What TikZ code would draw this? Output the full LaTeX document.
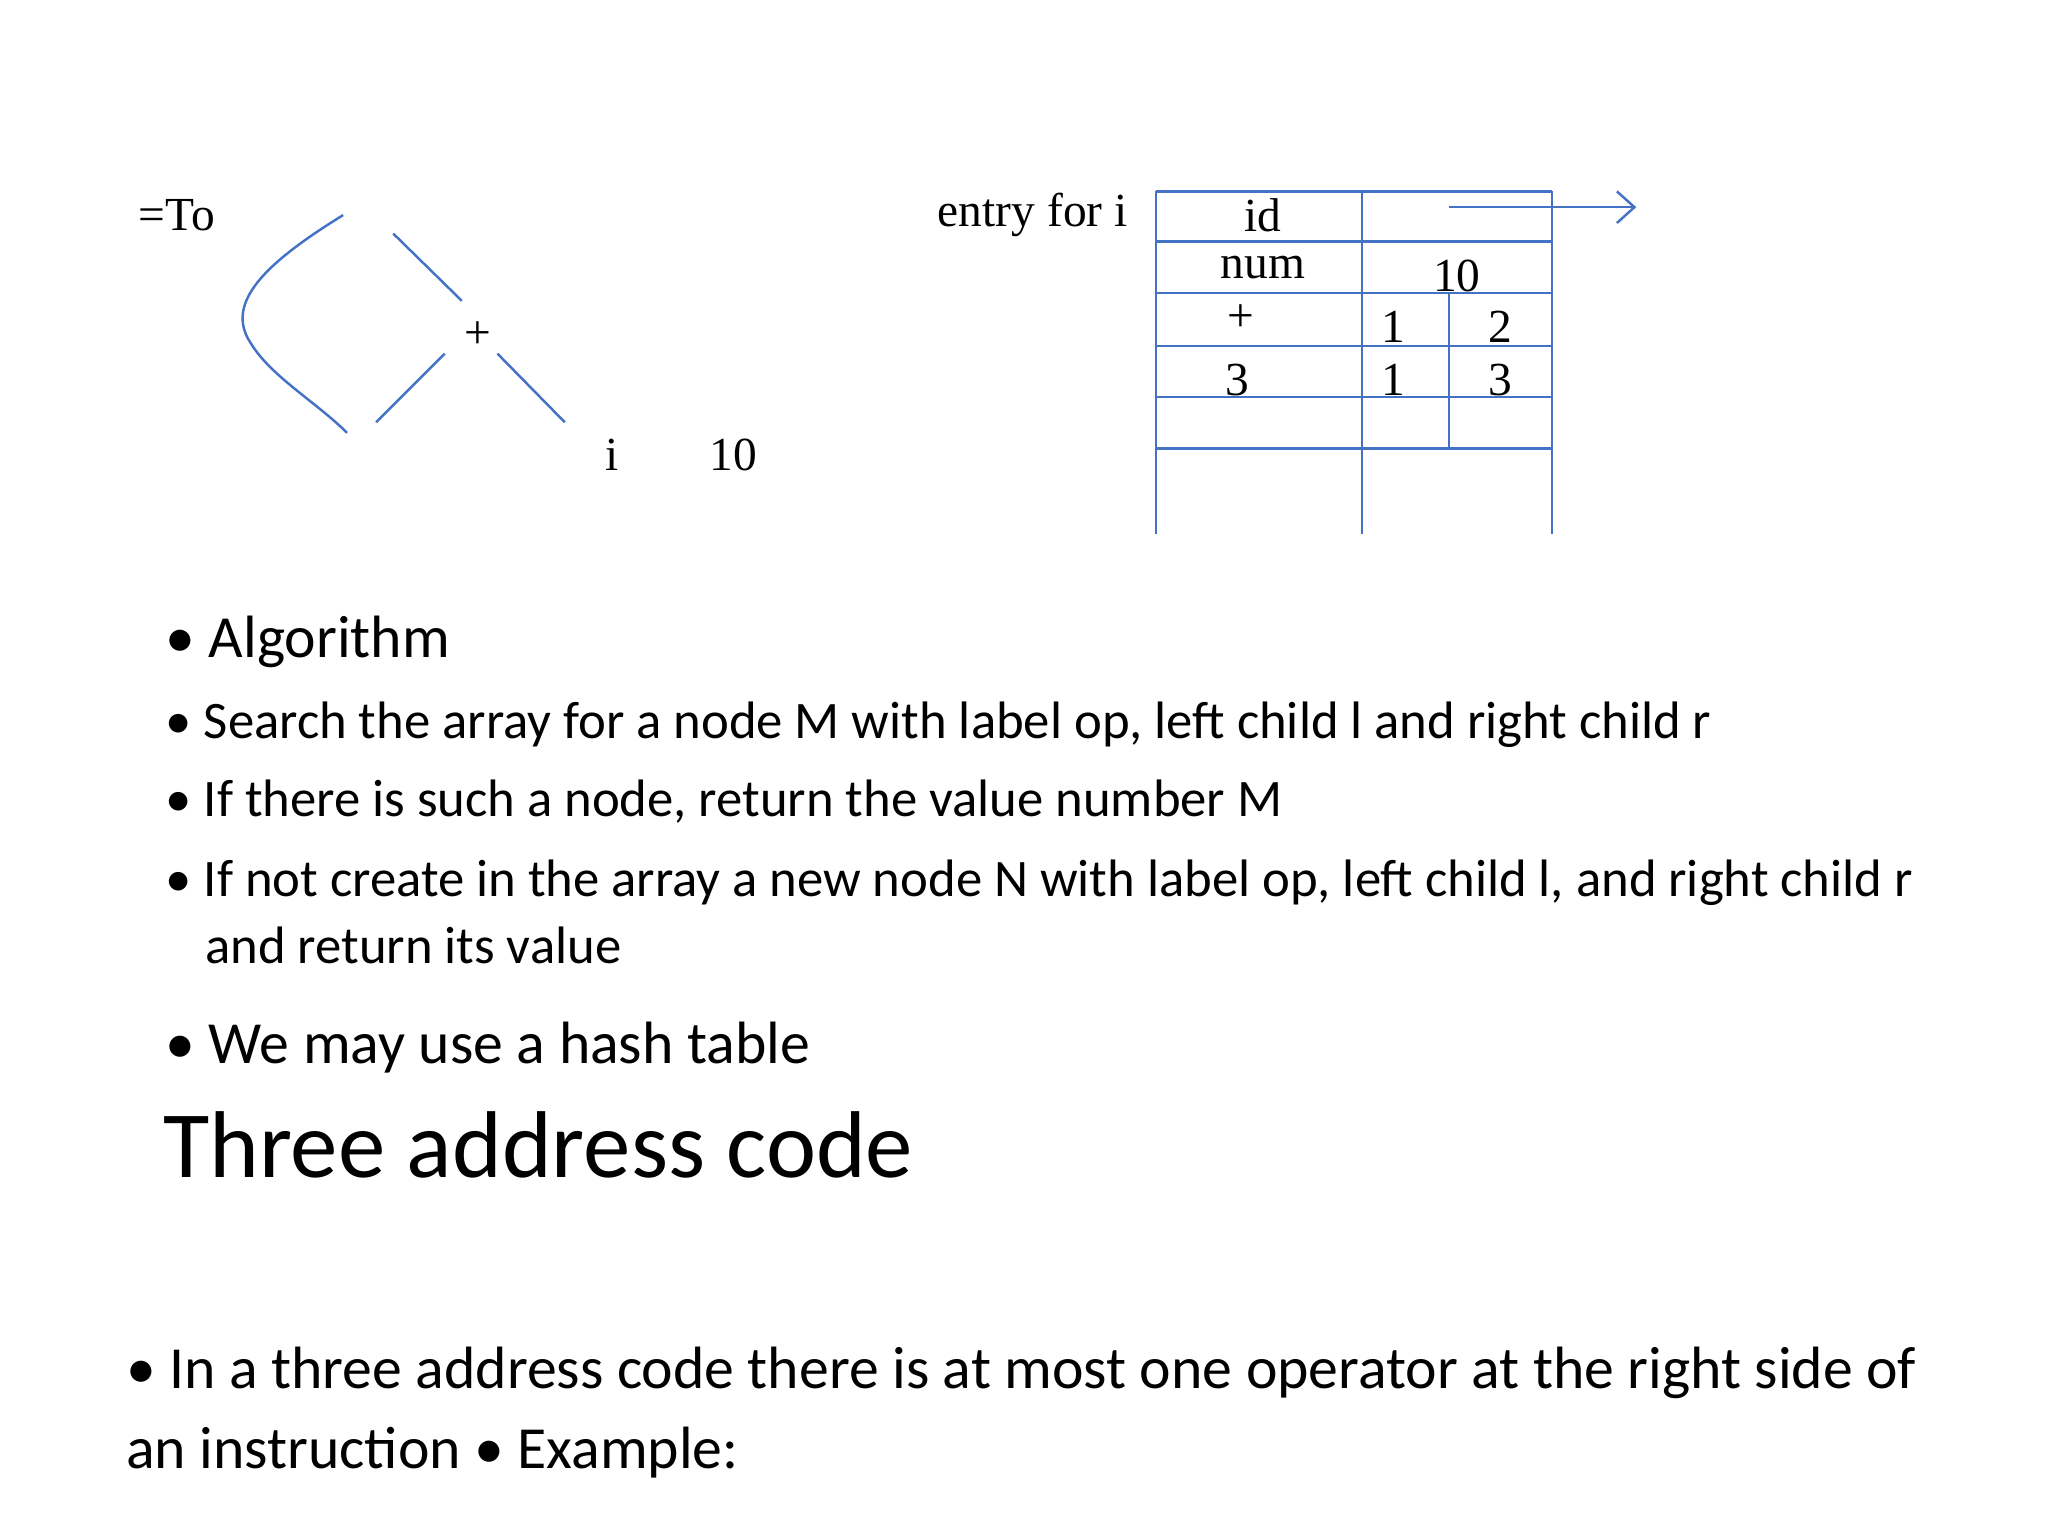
\documentclass[tikz,border=0pt]{standalone}
\usepackage{fontspec}
\usetikzlibrary{arrows.meta}
\setmainfont{Carlito}
\newfontfamily\tnr{Liberation Serif}
\begin{document}
\begin{tikzpicture}[x=0.0132cm,y=-0.0132cm,
  bl/.style={line width=0.7pt, color={rgb,255:red,68;green,114;blue,196}},
  ser/.style={font=\tnr\fontsize{13.5}{16}\selectfont, inner sep=0},
  bul/.style={anchor=base west, inner sep=0, font=\fontsize{15}{18}\selectfont}]
\useasboundingbox (0,0) rectangle (1552,1164);
% tree
\node[ser] (to) at (134,163) {=To};
\draw[bl] (260,163) .. controls (200,200) and (170,230) .. (190,260) .. controls (205,285) and (240,305) .. (263,328);
\draw[bl] (298,177) -- (350,228);
\draw[bl] (337,268) -- (285,320);
\draw[bl] (377,268) -- (428,320);
\node[ser] (plus) at (362,254) {+};
\node[ser] (i) at (464,345) {i};
\node[ser] (ten) at (556,345) {10};
% table
\node[ser, anchor=east] (entry) at (855,163) {entry for i};
\foreach \y in {145,183,222,262,301,340} \draw[bl] (876,\y) -- (1176,\y);
\draw[bl] (876,145) -- (876,405);
\draw[bl] (1032,145) -- (1032,405);
\draw[bl] (1176,145) -- (1176,405);
\draw[bl] (1098,222) -- (1098,340);
\draw[bl,-{Straight Barb[length=5pt,width=9pt]}] (1098,157) -- (1240,157);
\node[ser] (c1) at (957,163) {id};
\node[ser] (c2) at (957,203) {num};
\node[ser] (c3) at (1104,209) {10};
\node[ser] (c4) at (940,241) {+};
\node[ser] (c5) at (1056,248) {1};
\node[ser] (c6) at (1137,248) {2};
\node[ser] (c7) at (938,288) {3};
\node[ser] (c8) at (1056,288) {1};
\node[ser] (c9) at (1137,288) {3};
% bullets
\node[bul, font=\fontsize{17}{20}\selectfont] (b1) at (125,498) {• Algorithm};
\node[bul] (b2) at (125,560) {• Search the array for a node M with label op, left child l and right child r};
\node[bul] (b3) at (125,619) {• If there is such a node, return the value number M};
\node[bul] (b4) at (125,679) {• If not create in the array a new node N with label op, left child l, and right child r};
\node[bul] (b4b) at (155,730) {and return its value};
\node[bul, font=\fontsize{17}{20}\selectfont] (b5) at (125,806) {• We may use a hash table};
\node[bul, font=\fontsize{27}{32}\selectfont] (title) at (123,892) {Three address code};
\node[bul, font=\fontsize{17}{20}\selectfont] (p1) at (95,1052) {• In a three address code there is at most one operator at the right side of};
\node[bul, font=\fontsize{17}{20}\selectfont] (p2) at (95,1113) {an instruction • Example:};
\end{tikzpicture}
\end{document}
